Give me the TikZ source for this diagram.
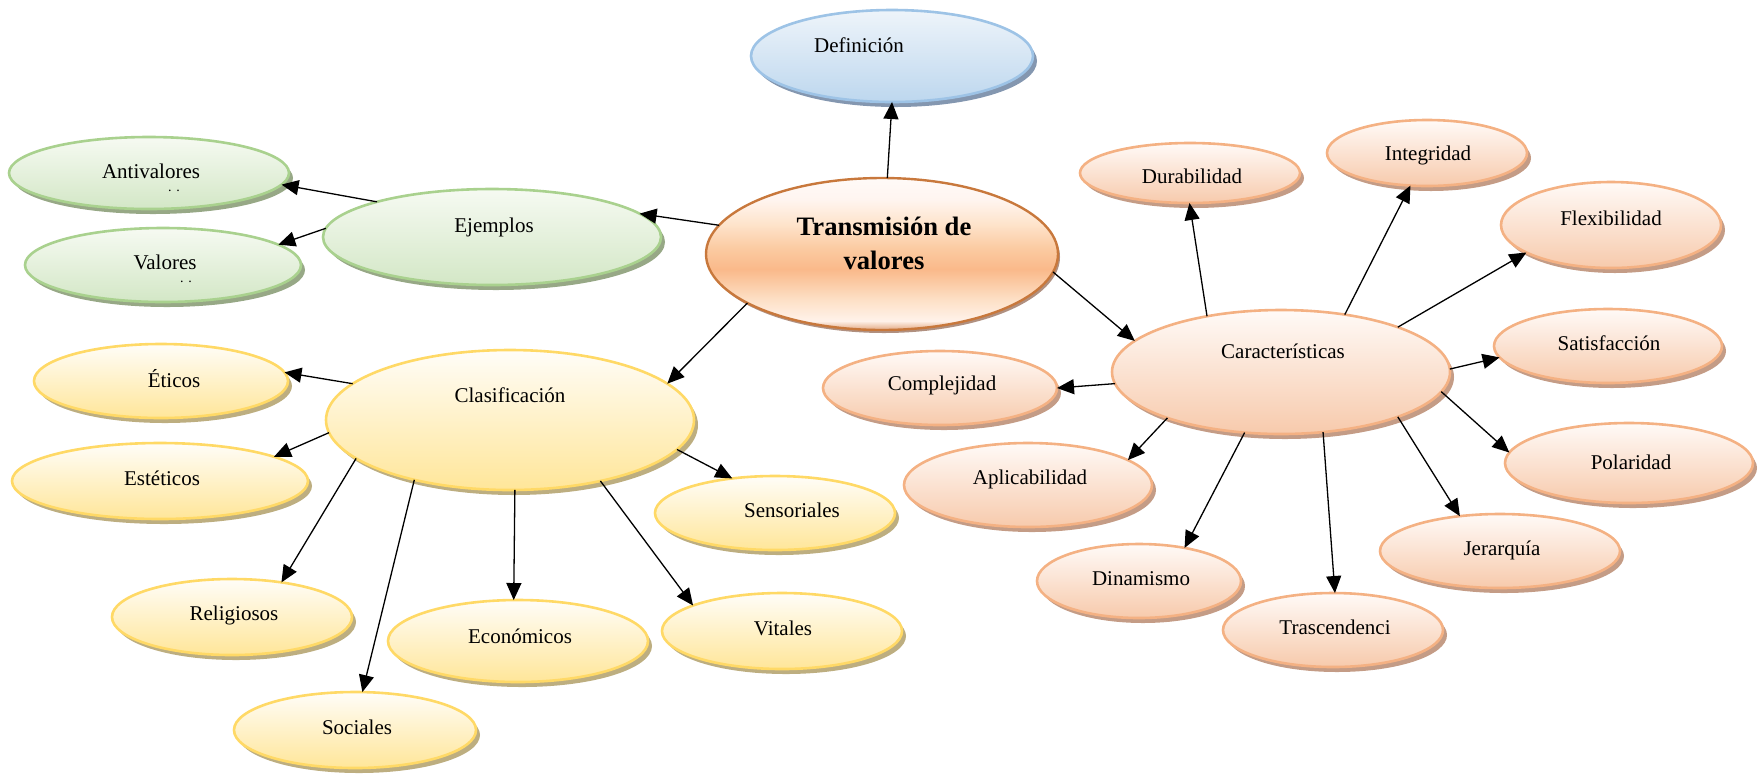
\documentclass[tikz,border=0pt]{standalone}
\usepackage{fontspec}
\setmainfont{Liberation Serif}
\usetikzlibrary{shapes.geometric,arrows.meta,shadows}
\definecolor{gbord}{HTML}{A9D18E}
\definecolor{gtop}{HTML}{F6FAF2}
\definecolor{gbot}{HTML}{D3E7C6}
\definecolor{gsh}{HTML}{97A886}
\definecolor{ybord}{HTML}{FFD966}
\definecolor{ytop}{HTML}{FFFDF8}
\definecolor{ybot}{HTML}{FFE699}
\definecolor{ysh}{HTML}{BDAE80}
\definecolor{obord}{HTML}{F4B183}
\definecolor{otop}{HTML}{FFFAF7}
\definecolor{obot}{HTML}{F7CAAC}
\definecolor{osh}{HTML}{C49C86}
\definecolor{bbord}{HTML}{9DC3E6}
\definecolor{btop}{HTML}{EEF4FA}
\definecolor{bbot}{HTML}{BDD7EE}
\definecolor{bsh}{HTML}{8497B0}
\definecolor{cbord}{HTML}{C8783C}
\definecolor{csh}{HTML}{B09080}
\definecolor{csA}{HTML}{E2A882}
\definecolor{csB}{HTML}{FFF2EA}
\definecolor{csC}{HTML}{FDE0C6}
\definecolor{csD}{HTML}{FAB98A}
\definecolor{csE}{HTML}{FBCBA2}
\definecolor{csF}{HTML}{FEE4CC}
\definecolor{csG}{HTML}{FFF5F0}
\definecolor{csH}{HTML}{FFFAF8}
\pgfdeclareverticalshading{ctrshade}{100bp}{%
  color(0bp)=(csA);
  color(25bp)=(csA);
  color(28bp)=(csB);
  color(35bp)=(csC);
  color(45bp)=(csD);
  color(52bp)=(csE);
  color(60bp)=(csF);
  color(68bp)=(csG);
  color(75bp)=(csH);
  color(100bp)=(csH)}
\tikzset{
  ell/.style={ellipse, inner sep=0pt, outer sep=0pt, line width=1.3pt},
  gell/.style={ell, draw=gbord, top color=gtop, bottom color=gbot,
    drop shadow={shadow xshift=2pt, shadow yshift=-2.5pt, fill=gsh, opacity=1}},
  yell/.style={ell, draw=ybord, top color=ytop, bottom color=ybot,
    drop shadow={shadow xshift=2pt, shadow yshift=-2.5pt, fill=ysh, opacity=1}},
  oell/.style={ell, draw=obord, top color=otop, bottom color=obot,
    drop shadow={shadow xshift=2pt, shadow yshift=-2.5pt, fill=osh, opacity=1}},
  bell/.style={ell, draw=bbord, top color=btop, bottom color=bbot,
    drop shadow={shadow xshift=2pt, shadow yshift=-2.5pt, fill=bsh, opacity=1}},
  cell/.style={ell, draw=cbord, line width=1.2pt, shading=ctrshade,
    drop shadow={shadow xshift=1pt, shadow yshift=-1.5pt, fill=csh, opacity=1}},
  lbl/.style={inner sep=0pt, font=\fontsize{10.5}{12.6}\selectfont},
  dotlbl/.style={inner sep=0pt, font=\fontsize{7}{8}\selectfont},
  clbl/.style={inner sep=0pt, align=center, font=\fontsize{13.3}{17}\selectfont\bfseries},
  arr/.style={-{Triangle[length=8.5pt,width=7.5pt]}, line width=0.65pt, black}
}
\begin{document}
\begin{tikzpicture}[x=0.5pt,y=-0.5pt]
\useasboundingbox (0,0) rectangle (1759,778);
% ellipses
\node[bell, minimum width=141pt, minimum height=46pt] (def) at (892,56) {};
\node[cell, minimum width=176pt, minimum height=76pt] (ctr) at (882,254) {};
\node[gell, minimum width=169pt, minimum height=48pt] (ejem) at (492,237) {};
\node[gell, minimum width=140pt, minimum height=36pt] (anti) at (149,173) {};
\node[gell, minimum width=138pt, minimum height=37pt] (val) at (163,265) {};
\node[yell, minimum width=184pt, minimum height=70pt] (clas) at (510,420) {};
\node[yell, minimum width=127pt, minimum height=37pt] (eti) at (161,381) {};
\node[yell, minimum width=148pt, minimum height=38pt] (est) at (160,481) {};
\node[yell, minimum width=120pt, minimum height=37pt] (sens) at (775,513) {};
\node[yell, minimum width=120pt, minimum height=38pt] (rel) at (232,617) {};
\node[yell, minimum width=130pt, minimum height=41pt] (eco) at (518,641) {};
\node[yell, minimum width=120pt, minimum height=38pt] (vit) at (782,631) {};
\node[yell, minimum width=121pt, minimum height=38pt] (soc) at (355,730) {};
\node[oell, minimum width=169pt, minimum height=62pt] (car) at (1281,372) {};
\node[oell, minimum width=110pt, minimum height=30pt] (dur) at (1190,173) {};
\node[oell, minimum width=100pt, minimum height=33pt] (int) at (1427,153) {};
\node[oell, minimum width=110pt, minimum height=43pt] (flex) at (1611,225) {};
\node[oell, minimum width=114pt, minimum height=37pt] (sat) at (1608,346) {};
\node[oell, minimum width=117pt, minimum height=37pt] (comp) at (940,388) {};
\node[oell, minimum width=124pt, minimum height=42pt] (apl) at (1028,485) {};
\node[oell, minimum width=124pt, minimum height=40pt] (pol) at (1629,463) {};
\node[oell, minimum width=120pt, minimum height=37pt] (jer) at (1500,551) {};
\node[oell, minimum width=102pt, minimum height=37pt] (din) at (1139,581) {};
\node[oell, minimum width=110pt, minimum height=37pt] (tra) at (1333,630) {};
% texts
\node[lbl] (tdef) at (859,45) {Definición};
\node[clbl] (tctr) at (884,243) {Transmisión de\\valores};
\node[lbl] (tejem) at (494,227) {Ejemplos};
\node[lbl] (tanti) at (151,171) {Antivalores};
\node[dotlbl] (danti) at (174,191) {.\,\,.};
\node[lbl] (tval) at (165,262) {Valores};
\node[dotlbl] (dval) at (186,282) {.\,\,.};
\node[lbl] (tclas) at (510,395) {Clasificación};
\node[lbl] (teti) at (174,379) {Éticos};
\node[lbl] (test) at (162,478) {Estéticos};
\node[lbl] (tsens) at (792,510) {Sensoriales};
\node[lbl] (trel) at (234,615) {Religiosos};
\node[lbl] (teco) at (520,636) {Económicos};
\node[lbl] (tvit) at (783,628) {Vitales};
\node[lbl] (tsoc) at (357,727) {Sociales};
\node[lbl] (tcar) at (1283,351) {Características};
\node[lbl] (tdur) at (1192,176) {Durabilidad};
\node[lbl] (tint) at (1428,155) {Integridad};
\node[lbl] (tflex) at (1611,218) {Flexibilidad};
\node[lbl] (tsat) at (1609,343) {Satisfacción};
\node[lbl] (tcomp) at (942,385) {Complejidad};
\node[lbl] (tapl) at (1030,479) {Aplicabilidad};
\node[lbl] (tpol) at (1631,462) {Polaridad};
\node[lbl] (tjer) at (1502,550) {Jerarquía};
\node[lbl] (tdin) at (1141,579) {Dinamismo};
\node[lbl] (ttra) at (1335,627) {Trascendenci};
% arrows
\draw[arr] (ctr.86) -- (def.270);
\draw[arr] (ctr.170) -- (ejem.9);
\draw[arr] (ejem.163) -- (anti.355);
\draw[arr] (ejem.177) -- (val.10);
\draw[arr] (ctr.200) -- (clas.13);
\draw[arr] (clas.167) -- (eti.4);
\draw[arr] (clas.184) -- (est.12);
\draw[arr] (clas.194) -- (rel.35);
\draw[arr] (clas.212) -- (soc.79);
\draw[arr] (clas.274) -- (eco.96);
\draw[arr] (clas.326) -- (vit.164);
\draw[arr] (clas.350) -- (sens.141);
\draw[arr] (ctr.354) -- (car.168);
\draw[arr] (car.143) -- (dur.269);
\draw[arr] (car.42) -- (int.243);
\draw[arr] (car.21) -- (flex.198);
\draw[arr] (car.1) -- (sat.186);
\draw[arr] (car.184) -- (comp.0);
\draw[arr] (car.202) -- (apl.14);
\draw[arr] (car.353) -- (pol.175);
\draw[arr] (car.339) -- (jer.139);
\draw[arr] (car.305) -- (tra.87);
\draw[arr] (car.239) -- (din.36);
\end{tikzpicture}
\end{document}
